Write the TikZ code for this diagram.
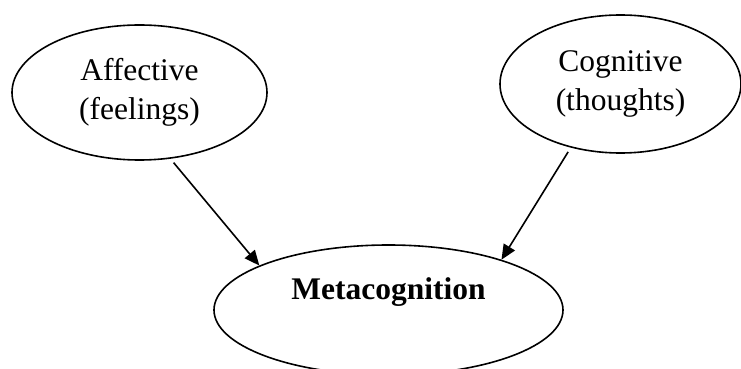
\documentclass[tikz,border=0pt]{standalone}
\usepackage{fontspec}
\setmainfont{Liberation Serif}
\usetikzlibrary{shapes.geometric,arrows.meta}

\begin{document}
\begin{tikzpicture}[x=0.5pt, y=-0.5pt,
    oval/.style={ellipse, draw, line width=0.8pt, align=center, inner sep=0pt,
                 font=\fontsize{15.75pt}{19.5pt}\selectfont},
    arrow/.style={-{Triangle[length=7.5pt,width=6.5pt]}, line width=0.8pt, shorten <=2.5pt}
]
\useasboundingbox (0,0) rectangle (741,369);
\node[oval, minimum width=127.5pt, minimum height=67.5pt] (aff) at (139.5,92.5) {Affective\\(feelings)};
\node[oval, minimum width=120.5pt, minimum height=69pt] (cog) at (620.5,84) {Cognitive\\(thoughts)};
\node[oval, minimum width=174.5pt, minimum height=65pt, font=\fontsize{15.75pt}{19.5pt}\selectfont\bfseries,
      text height=10pt, text depth=20pt] (meta) at (388.5,310) {Metacognition};

\draw[arrow] (aff.-65) -- (meta.161);
\draw[arrow] (cog.-128) -- (meta.24);
\end{tikzpicture}
\end{document}
